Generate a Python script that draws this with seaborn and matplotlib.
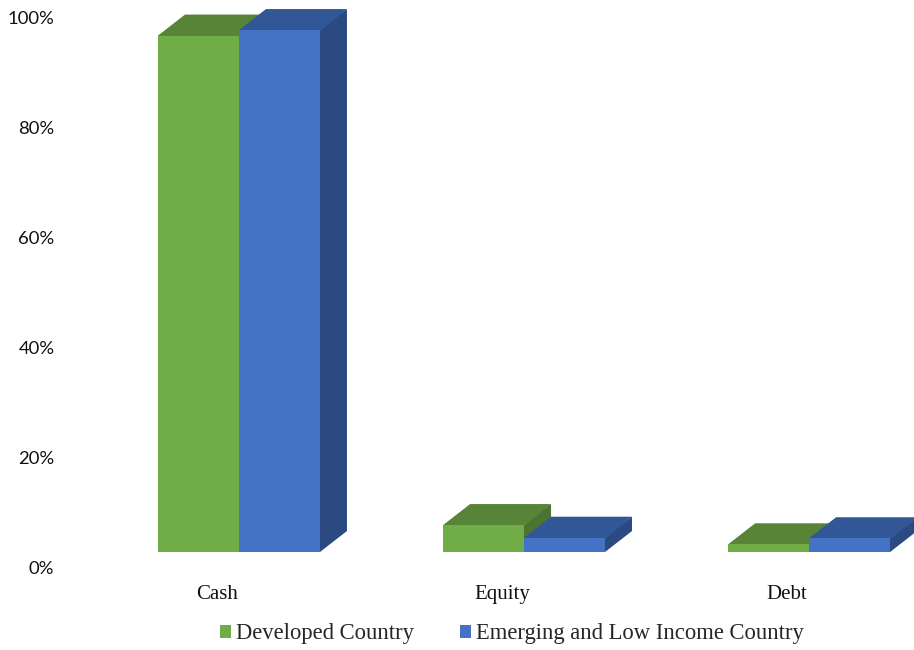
import matplotlib
matplotlib.use("Agg")
import matplotlib.pyplot as plt
import matplotlib.transforms as mtransforms
from matplotlib.patches import Polygon, Patch
import seaborn as sns
import pandas as pd

# Portfolio composition by asset class (% of holdings)
categories = ["Cash", "Equity", "Debt"]
series_names = ["Developed Country", "Emerging and Low Income Country"]
developed = [93.9, 4.9, 1.4]
emerging = [94.9, 2.6, 2.5]
y_ticks = [0, 20, 40, 60, 80, 100]
y_tick_labels = ["0%", "20%", "40%", "60%", "80%", "100%"]

front_colors = ["#70AD47", "#4472C4"]
top_colors = ["#578436", "#325797"]
side_colors = ["#4B7430", "#2B4A82"]

df = pd.DataFrame({
    "category": categories * 2,
    "value": developed + emerging,
    "series": [series_names[0]] * 3 + [series_names[1]] * 3,
})

sns.set_theme(style="white")
plt.rcParams["font.family"] = ["Lato", "DejaVu Sans"]

W, H = 914, 650
fig = plt.figure(figsize=(W / 100, H / 100), dpi=100)
left_px, base_px, top_px = 60, 552, 2
ax = fig.add_axes([left_px / W, (H - base_px) / H, (W - left_px) / W, (base_px - top_px) / H])

sns.barplot(data=df, x="category", y="value", hue="series", order=categories,
            hue_order=series_names, palette=front_colors, saturation=1,
            width=0.568, dodge=True, legend=False, linewidth=0, ax=ax)

x0, x1 = -0.628, 2.368
ax.set_xlim(x0, x1)
ax.set_ylim(0, 100)

# depth offset of the pseudo-3D boxes, in pixels
depth_dx, depth_dy = 27, 21
ax_w_px = W - left_px
ax_h_px = base_px - top_px
ddx = depth_dx * (x1 - x0) / ax_w_px
ddy = depth_dy * 100 / ax_h_px
# small overlap tucked under the front faces to avoid hairline seams
eps_x = 1.2 * (x1 - x0) / ax_w_px
eps_y = 1.2 * 100 / ax_h_px

bars = [p for p in ax.patches]
for p in bars:
    p.set_zorder(3)
    p.set_linewidth(0)

for s_idx in range(2):
    for bar in bars:
        if bar.get_facecolor()[:3] != matplotlib.colors.to_rgb(front_colors[s_idx]):
            continue
        bx, bw, bh = bar.get_x(), bar.get_width(), bar.get_height()
        top = Polygon([(bx, bh - eps_y), (bx + bw, bh - eps_y), (bx + bw + ddx, bh + ddy),
                       (bx + ddx, bh + ddy), (bx, bh)],
                      closed=True, facecolor=top_colors[s_idx], edgecolor="none",
                      zorder=1 + s_idx, clip_on=False)
        side = Polygon([(bx + bw - eps_x, 0), (bx + bw - eps_x, bh), (bx + bw + ddx, bh + ddy),
                        (bx + bw + ddx, ddy), (bx + bw, 0)],
                       closed=True, facecolor=side_colors[s_idx], edgecolor="none",
                       zorder=1 + s_idx, clip_on=False)
        ax.add_patch(side)
        ax.add_patch(top)

for sp in ax.spines.values():
    sp.set_visible(False)
ax.grid(False)
ax.set_xlabel("")
ax.set_ylabel("")

ax.set_yticks(y_ticks)
ax.set_yticklabels(y_tick_labels, fontsize=13.3, color="#111111", family=["Lato", "DejaVu Sans"])
ax.tick_params(axis="y", length=0, pad=4)
ax.tick_params(axis="x", length=0, pad=24)
ax.set_xticks(range(len(categories)))
ax.set_xticklabels(categories, fontsize=15, color="#111111", family=["Liberation Serif"])

y_shift = mtransforms.ScaledTranslation(0, -16 / 100, fig.dpi_scale_trans)
for lab in ax.get_yticklabels():
    lab.set_transform(lab.get_transform() + y_shift)
x_shift = mtransforms.ScaledTranslation(-22 / 100, 0, fig.dpi_scale_trans)
for lab in ax.get_xticklabels():
    lab.set_transform(lab.get_transform() + x_shift)

handles = [Patch(facecolor=c, edgecolor="none") for c in front_colors]
fig.legend(handles, series_names, loc="center", bbox_to_anchor=(512 / W, 1 - 634 / H),
           ncol=2, frameon=False, handlelength=0.5, handleheight=0.5, handletextpad=0.22,
           columnspacing=2.0, borderpad=0, prop={"family": "Liberation Serif", "size": 16.3})

fig.savefig("out.png", dpi=100, facecolor="white")
